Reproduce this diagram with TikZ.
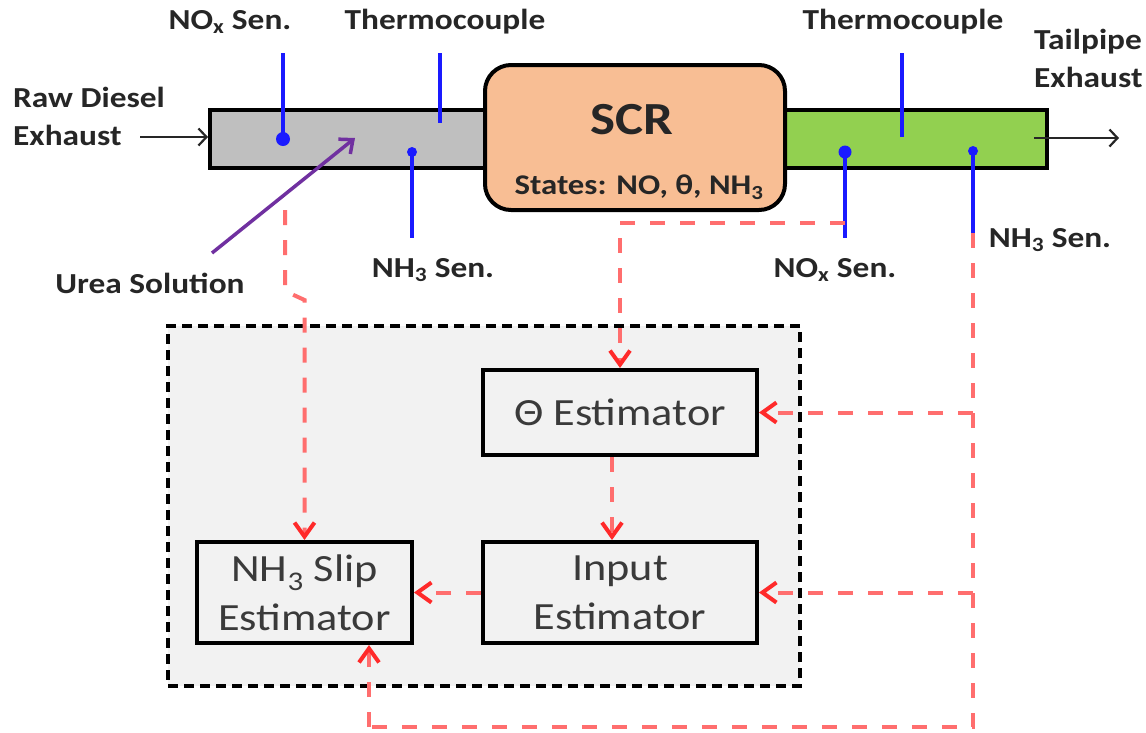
\documentclass[tikz,border=0pt]{standalone}
\usepackage{fontspec}
\setmainfont{Carlito}
\newfontfamily\calfont[FakeStretch=1.15]{Carlito}
\usetikzlibrary{arrows.meta}
\definecolor{pipegray}{HTML}{BFBFBF}
\definecolor{pipegreen}{HTML}{92D050}
\definecolor{scrorange}{HTML}{F8BE94}
\definecolor{sensblue}{HTML}{1A1AFF}
\definecolor{ureapurple}{HTML}{7030A0}
\definecolor{sigred}{HTML}{FF6E6E}
\definecolor{tipred}{HTML}{FF2A2A}
\definecolor{panelgray}{HTML}{F2F2F2}
\definecolor{txt}{HTML}{262626}
\definecolor{esttxt}{HTML}{3A3A3A}
\begin{document}
\begin{tikzpicture}[x=1pt,y=-1pt,
  lab/.style={font=\calfont\bfseries\fontsize{29}{38}\selectfont, text=txt, inner sep=0pt, align=center},
  est/.style={draw=black, line width=4pt, fill=panelgray, font=\calfont\fontsize{38.5}{49}\selectfont, text=esttxt, align=center, inner sep=0pt},
  pipe/.style={draw=black, line width=4pt, inner sep=0pt},
  sens/.style={draw=sensblue, line width=3.5pt},
  sensdot/.style={fill=sensblue},
  flow/.style={draw=txt, line width=2.2pt, -{Straight Barb[length=8pt,width=17pt,line width=2.2pt]}},
  sig/.style={draw=sigred, line width=4pt, dash pattern=on 15pt off 15pt, -{Straight Barb[length=14pt,width=20pt,line width=4pt,color=tipred]}},
  sigline/.style={draw=sigred, line width=4pt, dash pattern=on 15pt off 15pt}]
\useasboundingbox[fill=white] (0,0) rectangle (1146,732);

% pipes and SCR
\node[pipe, fill=pipegray, minimum width=290pt, minimum height=58pt] (gray) at (355,139) {};
\node[pipe, fill=pipegreen, minimum width=277pt, minimum height=58pt] (green) at (908.5,139) {};
\node[draw=black, line width=4pt, fill=scrorange, rounded corners=26pt, minimum width=300pt, minimum height=145pt, inner sep=0pt] (scr) at (635,137.5) {};
\node[font=\calfont\bfseries\fontsize{46}{50}\selectfont, text=txt, inner sep=0pt] (scrt) at (632,120) {SCR};
\node[font=\calfont\bfseries\fontsize{28.5}{32}\selectfont, text=txt, inner sep=0pt] (states) at (639,187) {States: NO, θ, NH\textsubscript{3}};

% flow arrows
\coordinate (rawin) at (140,137);
\coordinate (tailin) at (1034,138);
\coordinate (tailout) at (1119,138);
\draw[flow] (rawin) -- (rawin -| gray.west);
\draw[flow] (tailin) -- (tailout);

% labels
\node[lab, align=left, anchor=west] (raw) at (13,116) {Raw Diesel\\Exhaust};
\node[lab, align=left, anchor=west] (tail) at (1034,58.5) {Tailpipe\\Exhaust};
\node[lab] (noxAl) at (230,22) {NO\textsubscript{x} Sen.};
\node[lab] (tcAl) at (445,22) {Thermocouple};
\node[lab] (tcBl) at (903,22) {Thermocouple};
\node[lab] (urea) at (150,283) {Urea Solution};
\node[lab] (nh3Al) at (433,270) {NH\textsubscript{3} Sen.};
\node[lab] (noxBl) at (835,270) {NO\textsubscript{x} Sen.};
\node[lab] (nh3Bl) at (1050,240) {NH\textsubscript{3} Sen.};

% sensors
\coordinate (noxAtop) at (283,53);
\coordinate (noxA) at (283,139);
\coordinate (tcAtop) at (440,53);
\coordinate (tcA) at (440,123);
\coordinate (nh3A) at (412,152);
\coordinate (nh3Abot) at (412,238);
\coordinate (noxB) at (845,152);
\coordinate (noxBbot) at (845,238);
\coordinate (tcBtop) at (902,53);
\coordinate (tcB) at (902,137);
\coordinate (nh3B) at (973,151);
\coordinate (nh3Bbot) at (973,233);
\draw[sens] (noxAtop) -- (noxA);
\fill[sensdot] (noxA) circle (7pt);
\draw[sens] (tcAtop) -- (tcA);
\draw[sens] (nh3A) -- (nh3Abot);
\fill[sensdot] (nh3A) circle (5pt);
\draw[sens] (noxB) -- (noxBbot);
\fill[sensdot] (noxB) circle (6.5pt);
\draw[sens] (tcBtop) -- (tcB);
\draw[sens] (nh3B) -- (nh3Bbot);
\fill[sensdot] (nh3B) circle (5pt);

% urea injection
\coordinate (ureatail) at (212,253);
\coordinate (ureahead) at (355,138);
\draw[ureapurple, line width=3.5pt, -{Straight Barb[length=11pt,width=19pt,line width=3.5pt]}] (ureatail) -- (ureahead);

% estimator panel
\node[draw=black, line width=4pt, dash pattern=on 10pt off 6pt, fill=panelgray, minimum width=632pt, minimum height=360pt, inner sep=0pt] (panel) at (484,506) {};

% signal lines
\coordinate (noxBtap) at (845,223);
\coordinate (nh3Atap) at (285,210);
\coordinate (botleft) at (369,727);
\coordinate (botright) at (973,727);
\coordinate (thetatap) at (973,412.5);
\coordinate (inputtap) at (973,592.5);

\node[est, minimum width=215pt, minimum height=101pt] (slip) at (304.5,592.5) {NH\textsubscript{3} Slip\\Estimator};
\node[est, minimum width=274pt, minimum height=85pt] (theta) at (620,412.5) {Θ Estimator};
\node[est, minimum width=274pt, minimum height=101pt] (input) at (620,592.5) {Input\\Estimator};

\draw[sig] (nh3Atap) -- (285,291) -- (slip.north |- 0,300) -- (slip.north);
\draw[sig] (noxBtap) -- (theta.north |- noxBtap) -- (theta.north);
\draw[sig] ([xshift=-8pt]theta.south) -- ([xshift=-8pt]input.north);
\draw[sig] (input.west) -- (slip.east);
\draw[sigline] (nh3Bbot) -- (botright) -- (botleft);
\draw[sig] (botleft) -- (botleft |- slip.south);
\draw[sig] (thetatap) -- (theta.east);
\draw[sig] (inputtap) -- (input.east);
\end{tikzpicture}
\end{document}
